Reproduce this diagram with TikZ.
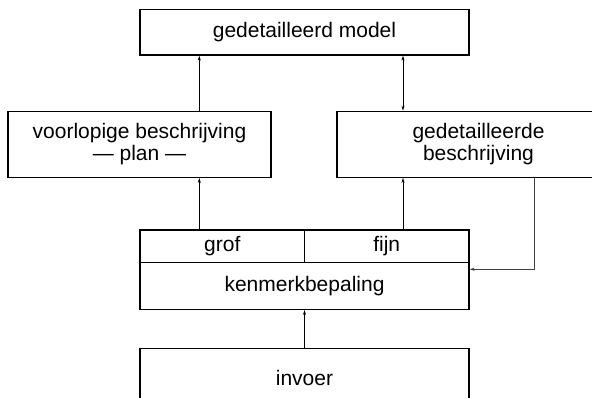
\documentclass[tikz,border=0pt]{standalone}
\usepackage{fontspec}
\setmainfont{Liberation Sans}
\usetikzlibrary{arrows.meta,positioning}

\tikzset{
  blok/.style={draw, line width=1.2pt, inner sep=0pt, align=center},
  pijl/.style={-{Stealth[length=5pt,width=3pt]}, line width=0.7pt},
}

\begin{document}
\begin{tikzpicture}[x=1pt, y=1pt, font=\fontsize{21}{22}\selectfont]
      \useasboundingbox (0,0) rectangle (592,398);
      \clip (0,0) rectangle (592,398);

      % Boxes
      \node[blok, minimum width=329pt, minimum height=45.7pt] (model) at (304.5,365.85) {gedetailleerd model};
      \node[blok, minimum width=263pt, minimum height=66pt] (voorlopig) at (139.5,253.7) {voorlopige beschrijving\\--- plan ---};
      \node[blok, minimum width=283pt, minimum height=66pt] (detail) at (478.5,253.7) {gedetailleerde\\beschrijving};

      % Kenmerkbepaling
      \node[blok, minimum width=164.5pt, minimum height=32.3pt] (grof) at (222.25,151.85) {grof};
      \node[blok, minimum width=164.5pt, minimum height=32.3pt] (fijn) at (386.75,151.85) {fijn};
      \node[blok, minimum width=329pt, minimum height=47pt] (kenmerk) at (304.5,112.2) {kenmerkbepaling};

      % Invoer
      \node[blok, minimum width=329pt, minimum height=60pt] (invoer) at (304.5,19.7) {invoer};

      % Arrows
      \coordinate (links) at (199.3,0);
      \coordinate (rechts) at (403,0);
      \coordinate (terug) at (534.3,128.7);
      \draw[pijl] (voorlopig.north -| links) -- (model.south -| links);
      \draw[pijl, {Stealth[length=5pt,width=3pt]}-{Stealth[length=5pt,width=3pt]}] (detail.north -| rechts) -- (model.south -| rechts);
      \draw[pijl] (grof.north -| links) -- (voorlopig.south -| links);
      \draw[pijl] (fijn.north -| rechts) -- (detail.south -| rechts);
      \draw[pijl, black!75] (detail.south -| terug) |- (kenmerk.east |- terug);
      \draw[pijl] (invoer.north) -- (kenmerk.south);
    \end{tikzpicture}
\end{document}
